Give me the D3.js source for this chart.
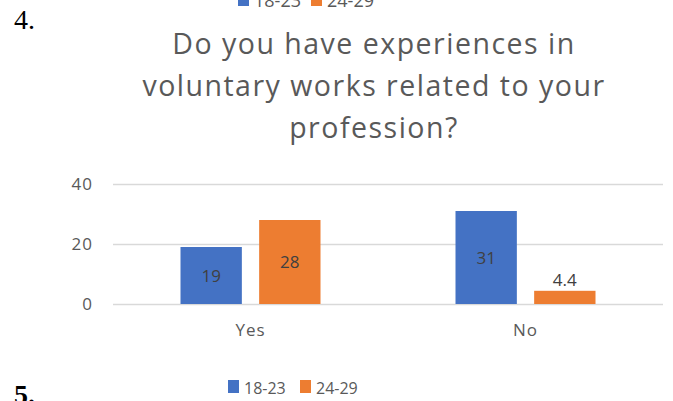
<!DOCTYPE html>
<html>
<head>
<meta charset="utf-8">
<script src="https://cdn.jsdelivr.net/npm/d3@7"></script>
<style>
  html, body { margin: 0; padding: 0; background: #fff; }
  svg { display: block; }
</style>
</head>
<body>
<svg id="chart" width="673" height="401"></svg>
<script>
// Survey answers by age group
const categories = ["Yes", "No"];
const seriesNames = ["18-23", "24-29"];
const series1823 = [19, 31];
const series2429 = [28, 4.4];
const yTicks = [0, 20, 40];
const titleLines = ["Do you have experiences  in", "voluntary works related to your", "profession?"];

const colors = ["#4472c4", "#ed7d31"];
const font = "'Open Sans', 'Noto Sans', sans-serif";
const serif = "'Liberation Serif', 'Times New Roman', Tinos, serif";
const svg = d3.select("#chart");

const margin = { left: 113, right: 10 };
const W = 673;

const x = d3.scaleBand().domain(categories).range([margin.left, W - margin.right]);
const x1 = d3.scaleBand().domain(seriesNames).range([0, 140]).paddingInner(0.22);
const y = d3.scaleLinear().domain([0, 40]).range([304, 184]);

// numbered list markers around the figure
svg.append("text").attr("x", 14).attr("y", 29)
  .style("font-family", serif)
  .attr("font-size", 28).attr("fill", "#000").text("4.");
svg.append("text").attr("x", 14).attr("y", 404)
  .style("font-family", serif).attr("font-weight", "bold")
  .attr("font-size", 28).attr("fill", "#000").text("5.");

// title
svg.append("g").selectAll("text").data(titleLines).join("text")
  .attr("x", 374).attr("y", (d, i) => 54 + i * 42)
  .attr("text-anchor", "middle")
  .attr("font-family", font).attr("font-size", 28.5)
  .attr("letter-spacing", 1.5)
  .attr("fill", "#595959").text(d => d);

// gridlines and y-axis labels
const yAxis = d3.axisLeft(y).tickValues(yTicks).tickSize(-(W - margin.right - margin.left)).tickPadding(20);
const ga = svg.append("g").attr("transform", `translate(${margin.left},0)`).call(yAxis);
ga.select(".domain").remove();
ga.selectAll(".tick line").attr("stroke", "#d9d9d9").attr("stroke-width", 1.3);
ga.selectAll(".tick text").attr("font-family", font).attr("font-size", 17)
  .attr("letter-spacing", 1).attr("fill", "#595959");

// x-axis labels
const xAxis = d3.axisBottom(x).tickSize(0).tickPadding(20);
const gx = svg.append("g").attr("transform", `translate(0,304)`).call(xAxis);
gx.select(".domain").remove();
gx.selectAll(".tick text").attr("font-family", font).attr("font-size", 17)
  .attr("letter-spacing", 1).attr("fill", "#595959");

// bars
const rows = categories.map((c, i) => ({ cat: c, vals: [series1823[i], series2429[i]] }));
const groups = svg.append("g").selectAll("g").data(rows).join("g")
  .attr("transform", d => `translate(${x(d.cat) + x.bandwidth() / 2 - 70},0)`);

groups.selectAll("rect").data(d => d.vals.map((v, k) => ({ v, k }))).join("rect")
  .attr("x", d => x1(seriesNames[d.k]))
  .attr("width", x1.bandwidth())
  .attr("y", d => y(d.v))
  .attr("height", d => y(0) - y(d.v))
  .attr("fill", d => colors[d.k]);

// value labels: centred inside, above when the bar is too short
groups.selectAll("text").data(d => d.vals.map((v, k) => ({ v, k }))).join("text")
  .attr("x", d => x1(seriesNames[d.k]) + x1.bandwidth() / 2)
  .attr("y", d => (y(0) - y(d.v) > 30) ? (y(d.v) + y(0)) / 2 + 6 : y(d.v) - 5)
  .attr("text-anchor", "middle")
  .attr("font-family", font).attr("font-size", 17)
  .attr("fill", "#404040").text(d => d.v);

// legends
function legend(tx, ty, size, sw, step) {
  const g = svg.append("g").attr("transform", `translate(${tx},${ty})`);
  const item = g.selectAll("g").data(seriesNames).join("g")
    .attr("transform", (d, i) => `translate(${i * step},0)`);
  item.append("rect").attr("x", 0).attr("y", -sw - 1).attr("width", sw - 2).attr("height", sw)
    .attr("fill", (d, i) => colors[i]);
  item.append("text").attr("x", sw + 3).attr("y", 0)
    .attr("font-family", font).attr("font-size", size).attr("fill", "#595959").text(d => d);
}
legend(228, 394, 16, 13, 72);
legend(238, 7, 18, 13, 73);
</script>
</body>
</html>
